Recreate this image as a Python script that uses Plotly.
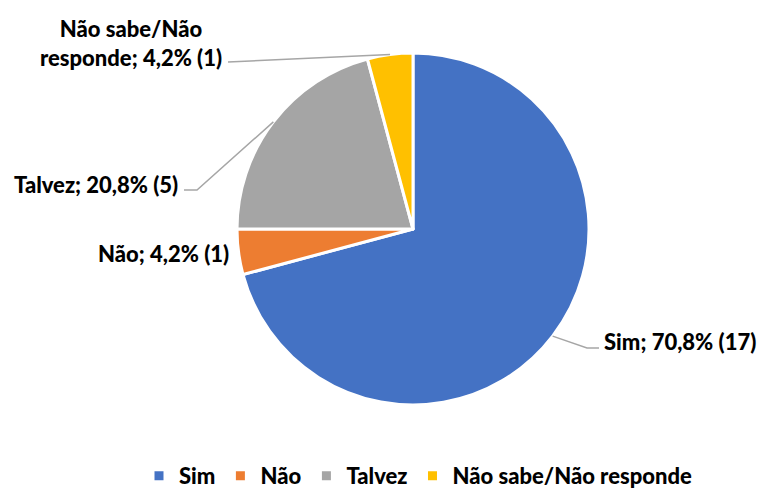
import math
import plotly.graph_objects as go

# Survey responses
categories = ["Sim", "Não", "Talvez", "Não sabe/Não responde"]
counts = [17, 1, 5, 1]
colors = ["#4472C4", "#ED7D31", "#A5A5A5", "#FFC000"]
label_texts = ["Sim; 70,8% (17)", "Não; 4,2% (1)", "Talvez; 20,8% (5)",
               "Não sabe/Não<br>responde; 4,2% (1)"]

W, H = 758, 497
CX, CY, R = 413, 229, 176  # pie centre and radius in pixels

FONT = "Lato, 'Open Sans', sans-serif"
LINE_COLOR = "#A6A6A6"


def px(x):
    return x / W


def py(y):
    return 1 - y / H


fig = go.Figure(go.Pie(
    labels=categories,
    values=counts,
    marker=dict(colors=colors, line=dict(color="white", width=3)),
    sort=False,
    direction="clockwise",
    rotation=0,
    textinfo="none",
    hoverinfo="label+value+percent",
    domain=dict(x=[px(CX - R), px(CX + R)], y=[py(CY + R), py(CY - R)]),
))

# Mid-angle of each slice (clockwise from 12 o'clock) -> point on the rim
total = sum(counts)
anchors = []
acc = 0
for c in counts:
    mid = (acc + c / 2) / total * 2 * math.pi
    anchors.append((CX + R * math.sin(mid), CY - R * math.cos(mid)))
    acc += c

# Leader-line routes (elbow, end) and label anchor for each slice
routes = [
    [(587, 348), (599, 348)],
    None,
    [(197, 190), (184, 190)],
    [(228, 62)],
]
label_pos = [
    (602, 341, "left"),
    (231, 253, "right"),
    (180, 184, "right"),
    (224, 43, "right"),
]

shapes = []
for (ax, ay), route in zip(anchors, routes):
    if route is None:
        continue
    pts = [(ax, ay)] + route
    path = "M " + " L ".join(f"{px(x)},{py(y)}" for x, y in pts)
    shapes.append(dict(type="path", xref="paper", yref="paper", path=path,
                       line=dict(color=LINE_COLOR, width=1.5)))

annotations = []
for text, (lx, ly, anchor) in zip(label_texts, label_pos):
    annotations.append(dict(
        x=px(lx), y=py(ly), xref="paper", yref="paper",
        text=text, showarrow=False,
        xanchor=anchor, yanchor="middle", align="center",
        font=dict(family=FONT, size=22, color="#000000", weight=900),
    ))

fig.update_layout(
    width=W, height=H,
    margin=dict(l=0, r=0, t=0, b=0),
    paper_bgcolor="white",
    plot_bgcolor="white",
    shapes=shapes,
    annotations=annotations,
    showlegend=True,
    legend=dict(
        orientation="h",
        x=px(418), xanchor="center",
        y=0.0, yanchor="bottom",
        font=dict(family=FONT, size=22, color="#000000", weight=900),
        itemwidth=30,
        traceorder="normal",
    ),
)

fig.write_html("out.html")
